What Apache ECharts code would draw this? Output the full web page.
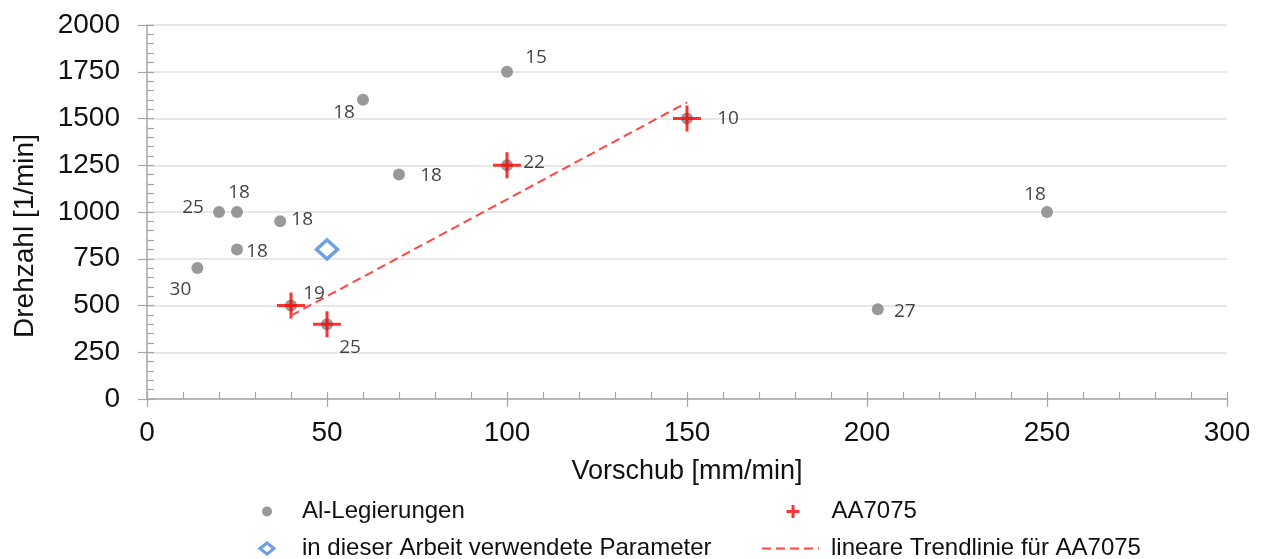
<!DOCTYPE html>
<html><head><meta charset="utf-8">
<script src="https://cdn.jsdelivr.net/npm/echarts@6/dist/echarts.min.js"></script>
<style>html,body{margin:0;padding:0;background:#fff}#c{width:1268px;height:559px}</style>
</head><body><div id="c"></div>
<script>
// ---- data ----
const alX = [14, 20, 25, 25, 37, 60, 70, 100, 40, 50, 100, 150, 203, 250];
const alY = [700, 1000, 1000, 800, 950, 1600, 1200, 1750, 500, 400, 1250, 1500, 480, 1000];
const alLabels = ['30', '25', '18', '18', '18', '18', '18', '15', '19', '25', '22', '10', '27', '18'];
const aaX = [40, 50, 100, 150];
const aaY = [500, 400, 1250, 1500];
const paramX = [50];
const paramY = [800];
const trendX = [40, 150];
const trendY = [446, 1586];
const seriesNames = ['Al-Legierungen', 'AA7075', 'in dieser Arbeit verwendete Parameter', 'lineare Trendlinie für AA7075'];
const xAxisName = 'Vorschub [mm/min]';
const yAxisName = 'Drehzahl [1/min]';

// ---- styling (label offsets in px relative to each point) ----
const alLabelOffsets = [[-17, 21], [-26, -4], [2, -19], [20, 2], [22, -2], [-19, 13], [32, 1], [29, -14], [23, -12], [23, 23], [27, -3], [41, 0], [27, 2], [-12, -17]];

const AX = '#a6a6a6';
const FONT = 'Liberation Sans, Arial, sans-serif';
const crossPath = 'path://M-14,-1.5H14V1.5H-14Z M-1.5,-13H1.5V13H-1.5Z';
const crossLegend = 'path://M-6.5,-1.5H6.5V1.5H-6.5Z M-1.5,-6.5H1.5V6.5H-1.5Z';

const chart = echarts.init(document.getElementById('c'), null, {renderer: 'canvas'});

const baseX = {type: 'value', min: 0, max: 300, interval: 50, position: 'bottom'};
const baseY = {type: 'value', min: 0, max: 2000, interval: 250, position: 'left'};

const legendText = pad => ({fontFamily: FONT, fontSize: 24, color: '#111', padding: [0, 0, 0, pad]});

chart.setOption({
  animation: false,
  grid: {left: 147, right: 41, top: 25, bottom: 160, containLabel: false},
  xAxis: [
    Object.assign({}, baseX, {
      axisLine: {show: true, onZero: false, lineStyle: {color: AX, width: 1.5}},
      axisTick: {show: true, inside: true, length: 7, lineStyle: {color: AX, width: 1.2}},
      minorTick: {show: true, splitNumber: 5, length: 7, lineStyle: {color: AX, width: 1.2}},
      axisLabel: {show: false},
      splitLine: {show: false}
    }),
    Object.assign({}, baseX, {
      axisLine: {show: false},
      axisTick: {show: true, inside: false, length: 8, lineStyle: {color: AX, width: 1.2}},
      axisLabel: {show: true, margin: 20, fontFamily: FONT, fontSize: 28, color: '#111', formatter: v => String(v)},
      splitLine: {show: false},
      name: xAxisName, nameLocation: 'middle', nameGap: 59,
      nameTextStyle: {fontFamily: FONT, fontSize: 27, color: '#111'}
    })
  ],
  yAxis: [
    Object.assign({}, baseY, {
      axisLine: {show: true, onZero: false, lineStyle: {color: AX, width: 1.5}},
      axisTick: {show: true, inside: true, length: 7, lineStyle: {color: AX, width: 1.2}},
      minorTick: {show: true, splitNumber: 5, length: 7, lineStyle: {color: AX, width: 1.2}},
      axisLabel: {show: false},
      splitLine: {show: true, lineStyle: {color: '#e0e0e0', width: 1.5}}
    }),
    Object.assign({}, baseY, {
      axisLine: {show: false},
      axisTick: {show: true, inside: false, length: 9, lineStyle: {color: AX, width: 1.2}},
      axisLabel: {show: true, margin: 27, fontFamily: FONT, fontSize: 28, color: '#111', formatter: v => String(v)},
      splitLine: {show: false},
      name: yAxisName, nameLocation: 'middle', nameGap: 108, nameRotate: 90,
      nameTextStyle: {fontFamily: FONT, fontSize: 28, color: '#111', padding: [0, 48, 0, 0]}
    })
  ],
  legend: [
    {left: 262, top: 499.5, padding: 0, itemWidth: 10, itemHeight: 10, selectedMode: false,
      textStyle: legendText(25), data: [{name: seriesNames[0], icon: 'circle'}]},
    {left: 258.5, top: 536.5, padding: 0, itemWidth: 14, itemHeight: 11, selectedMode: false,
      textStyle: legendText(23),
      data: [{name: seriesNames[2], icon: 'diamond', itemStyle: {borderWidth: 3, borderColor: '#4a86e0', color: '#ffffff'}}]},
    {left: 786.5, top: 499.5, padding: 0, itemWidth: 13, itemHeight: 13, selectedMode: false,
      textStyle: legendText(27), data: [{name: seriesNames[1], icon: crossLegend}]},
    {left: 761, top: 536.5, padding: 0, itemWidth: 57, itemHeight: 14, selectedMode: false,
      textStyle: legendText(7), data: [{name: seriesNames[3]}]}
  ],
  series: [
    {
      name: seriesNames[0], type: 'scatter', xAxisIndex: 0, yAxisIndex: 0, z: 2,
      symbol: 'circle', symbolSize: 12,
      itemStyle: {color: '#808080'},
      data: alX.map((x, i) => ({value: [x, alY[i]], label: {offset: alLabelOffsets[i]}})),
      label: {
        show: true, position: 'inside', align: 'center', verticalAlign: 'middle',
        fontFamily: 'Open Sans, sans-serif', fontSize: 19, color: '#111',
        formatter: p => alLabels[p.dataIndex]
      }
    },
    {
      name: seriesNames[1], type: 'scatter', xAxisIndex: 0, yAxisIndex: 0, z: 3,
      symbol: crossPath, symbolSize: [28, 26],
      itemStyle: {color: '#ff0000'},
      data: aaX.map((x, i) => [x, aaY[i]])
    },
    {
      name: seriesNames[2], type: 'scatter', xAxisIndex: 0, yAxisIndex: 0, z: 3,
      symbol: 'diamond', symbolSize: [21, 19],
      itemStyle: {color: '#ffffff', borderColor: '#4a86e0', borderWidth: 3.5},
      data: paramX.map((x, i) => [x, paramY[i]])
    },
    {
      name: seriesNames[3], type: 'line', xAxisIndex: 0, yAxisIndex: 0, z: 4,
      symbol: 'none', showSymbol: false,
      itemStyle: {color: 'rgba(0,0,0,0)'},
      lineStyle: {color: '#ff4545', width: 2, type: [9, 5]},
      data: trendX.map((x, i) => [x, trendY[i]])
    }
  ]
});
</script></body></html>
